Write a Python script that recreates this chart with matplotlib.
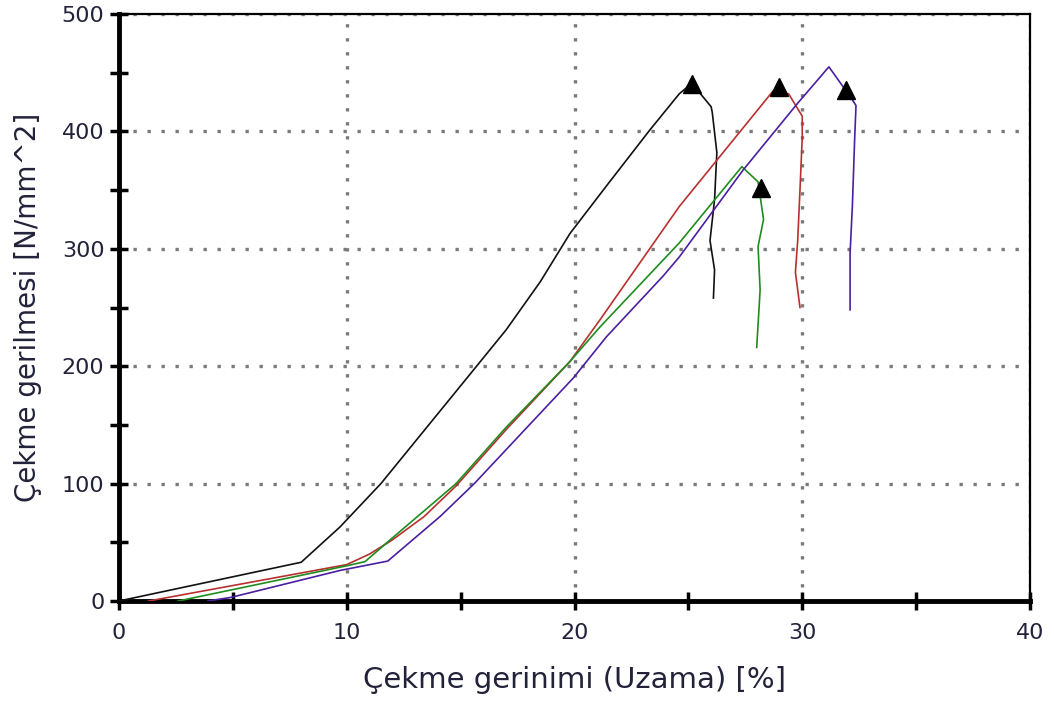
import matplotlib
matplotlib.use("Agg")
import matplotlib.pyplot as plt
from matplotlib.ticker import MultipleLocator

# ---- data (strain %, stress N/mm^2) ----
black_x = [0.0, 8.0, 9.7, 11.5, 15.7, 17.0, 18.5, 19.8, 21.5, 23.3, 24.6, 25.15, 26.0, 26.05, 26.25, 26.15, 25.95, 26.15, 26.1]
black_y = [0, 33, 63, 100, 200, 231, 272, 313, 356, 401, 432, 441, 421, 416, 382, 342, 307, 282, 258]

red_x = [1.3, 10.0, 11.0, 12.0, 13.4, 14.8, 17.0, 19.8, 21.1, 24.6, 28.7, 29.4, 30.0, 30.0, 29.9, 29.8, 29.7, 29.9]
red_y = [0, 31, 40, 52, 72, 98, 146, 204, 239, 336, 434, 432, 413, 395, 350, 307, 280, 250]

green_x = [2.6, 10.0, 10.8, 11.9, 14.8, 17.0, 19.8, 21.1, 24.6, 27.35, 28.06, 28.3, 28.06, 28.15, 28.0]
green_y = [0, 30, 33.5, 52, 100, 148, 204, 233, 305, 370, 357, 325, 302, 265, 216]

purple_x = [3.9, 4.9, 9.7, 11.8, 14.1, 15.6, 19.95, 21.4, 23.9, 24.6, 27.4, 29.8, 31.17, 32.2, 32.36, 32.3, 32.2, 32.1, 32.1]
purple_y = [0, 3, 26, 34, 72, 100, 190, 225, 277, 293, 367, 424, 455, 427, 422, 393, 336, 296, 248]

# break markers (triangles)
break_x = [25.15, 29.0, 28.17, 31.92]
break_y = [440, 438, 352, 435]

x_label = "Çekme gerinimi (Uzama) [%]"
y_label = "Çekme gerilmesi [N/mm^2]"

fig = plt.figure(figsize=(10.54, 7.06), dpi=100)
ax = fig.add_axes([119/1054, 105/706, 911/1054, 587/706])

txt_color = "#22223a"

series = [
    (black_x, black_y, "#111111"),
    (red_x, red_y, "#b8312f"),
    (green_x, green_y, "#1f8c1f"),
    (purple_x, purple_y, "#4b1fa0"),
]
for xs, ys, c in series:
    ax.plot(xs, ys, color=c, lw=1.2, zorder=3)

ax.plot(break_x, break_y, linestyle="none", marker="^", color="black",
        markersize=13, zorder=4)

ax.set_xlim(0, 40)
ax.set_ylim(0, 500)
ax.xaxis.set_major_locator(MultipleLocator(10))
ax.xaxis.set_minor_locator(MultipleLocator(5))
ax.yaxis.set_major_locator(MultipleLocator(100))
ax.yaxis.set_minor_locator(MultipleLocator(50))

ax.grid(True, which="major", color="#7a7a7a", linestyle=(0, (1.0, 3.2)), linewidth=2.4, zorder=1)

for side in ["left", "bottom"]:
    ax.spines[side].set_linewidth(3.5)
for side in ["top", "right"]:
    ax.spines[side].set_linewidth(1.6)

ax.tick_params(which="both", direction="inout", width=2.5, colors="black",
               labelcolor=txt_color, labelsize=16)
ax.tick_params(which="both", length=13)
ax.tick_params(axis="x", pad=9)
ax.tick_params(axis="y", pad=4)
ax.tick_params(top=False, right=False, which="both")

ax.set_xlabel(x_label, fontsize=21, color=txt_color, labelpad=17)
ax.set_ylabel(y_label, fontsize=20, color=txt_color)
ax.yaxis.set_label_coords(-0.085, 0.5)

fig.savefig("out.png", dpi=100)
